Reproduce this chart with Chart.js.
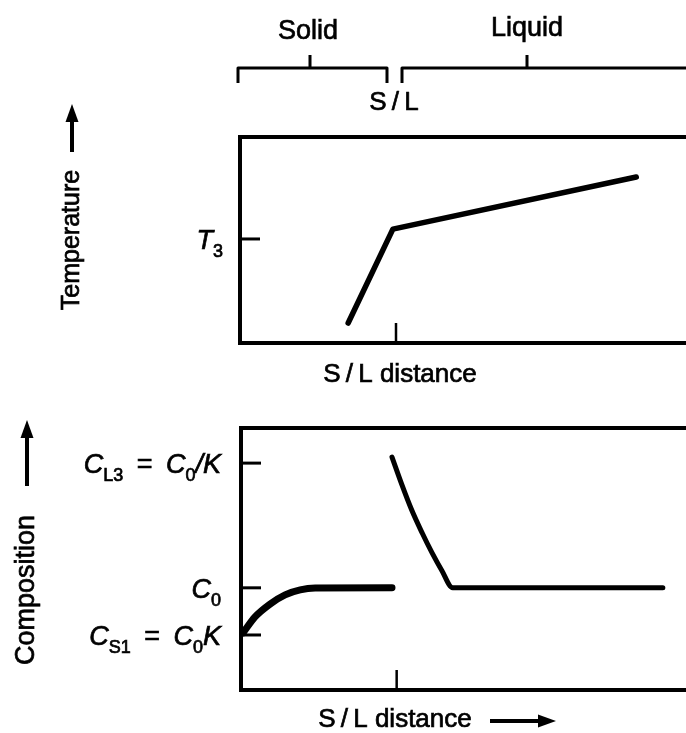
<!DOCTYPE html>
<html>
<head>
<meta charset="utf-8">
<script src="https://cdn.jsdelivr.net/npm/chart.js@4.4.0/dist/chart.umd.min.js"></script>
<style>
  html, body { margin: 0; padding: 0; background: #fff; overflow: hidden; width: 686px; height: 733px; }
  canvas { position: absolute; left: 0; }
  #tempChart { top: 0; }
  #compChart { top: 400px; }
</style>
</head>
<body>
<canvas id="tempChart" width="720" height="400"></canvas>
<canvas id="compChart" width="720" height="333"></canvas>
<script>
// distance from the S/L interface (arbitrary units), interface at 0
const tempDistance = [-9.2, -0.6, 46.2];
const temperature = [9.7, 55.3, 80.6];
const tempTickValues = [50.5];
const tempTickLabels = [
  [['T', 'i'], ['3', 'sub']],
];

const solidDistance = [-29.6, -27.3, -24.4, -21.5, -18.6, -15.7, -0.9];
const solidComp = [21.8, 27.9, 32.8, 36.3, 38.2, 38.9, 39];
const liquidDistance = [-0.9, 1.0, 2.9, 4.9, 6.8, 8.7, 10.8, 51.3];
const liquidComp = [88.9, 78.4, 68.7, 60.0, 52.4, 45.6, 39, 39];
const compTickValues = [86.6, 39, 21];
const compTickLabels = [
  [['C', 'i'], ['L3', 'sub'], ['\u2002=\u2002', 'r'], ['C', 'i'], ['0', 'sub'], ['/K', 'i']],
  [['C', 'i'], ['0', 'sub']],
  [['C', 'i'], ['S1', 'sub'], ['\u2002=\u2002', 'r'], ['C', 'i'], ['0', 'sub'], ['K', 'i']],
];

const FAMILY = '"Liberation Sans", Arial, Helvetica, sans-serif';

function toPoints(xs, ys) {
  return xs.map((x, i) => ({ x, y: ys[i] }));
}

// texto algo más grueso, como en el escaneo
function heavyText(ctx, t, x, y) {
  ctx.fillText(t, x, y);
  ctx.lineWidth = 0.7;
  ctx.strokeText(t, x, y);
}

// texto con cursiva y subíndices, alineado a la derecha
function drawRich(ctx, segs, right, base) {
  const fonts = { i: 'italic 27px ' + FAMILY, r: '27px ' + FAMILY, sub: '18px ' + FAMILY };
  let total = 0;
  segs.forEach(([t, k]) => { ctx.font = fonts[k]; total += ctx.measureText(t).width; });
  let x = right - total;
  ctx.textAlign = 'left';
  ctx.textBaseline = 'alphabetic';
  segs.forEach(([t, k]) => {
    ctx.font = fonts[k];
    heavyText(ctx, t, x, k === 'sub' ? base + 8 : base);
    x += ctx.measureText(t).width;
  });
}

function drawArrow(ctx, x1, y1, x2, y2) {
  const ang = Math.atan2(y2 - y1, x2 - x1);
  const len = 18, half = 6.5;
  ctx.lineWidth = 4;
  ctx.beginPath();
  ctx.moveTo(x1, y1);
  ctx.lineTo(x2 - Math.cos(ang) * len * 0.8, y2 - Math.sin(ang) * len * 0.8);
  ctx.stroke();
  ctx.beginPath();
  ctx.moveTo(x2, y2);
  ctx.lineTo(x2 - Math.cos(ang) * len - Math.sin(ang) * half, y2 - Math.sin(ang) * len + Math.cos(ang) * half);
  ctx.lineTo(x2 - Math.cos(ang) * len + Math.sin(ang) * half, y2 - Math.sin(ang) * len - Math.cos(ang) * half);
  ctx.closePath();
  ctx.fill();
}

function drawBracket(ctx, x1, x2, y, mid) {
  ctx.lineWidth = 3;
  ctx.lineJoin = 'round';
  ctx.beginPath();
  ctx.moveTo(x1, y + 15); ctx.lineTo(x1, y); ctx.lineTo(x2, y); ctx.lineTo(x2, y + 15);
  ctx.moveTo(mid, y); ctx.lineTo(mid, y - 13);
  ctx.stroke();
}

const framePlugin = {
  id: 'frame',
  afterDatasetsDraw(chart, args, opts) {
    const { ctx, chartArea: a, scales: { x, y } } = chart;
    ctx.save();
    ctx.strokeStyle = '#000';
    ctx.fillStyle = '#000';

    // marco: arriba, izquierda, abajo
    ctx.lineWidth = 4;
    ctx.lineCap = 'square';
    ctx.beginPath();
    ctx.moveTo(a.right + 10, a.top);
    ctx.lineTo(a.left, a.top);
    ctx.lineTo(a.left, a.bottom);
    ctx.lineTo(a.right + 10, a.bottom);
    ctx.stroke();

    // marcas hacia dentro en el eje y
    ctx.lineCap = 'butt';
    opts.tickValues.forEach((v, i) => {
      const py = y.getPixelForValue(v);
      ctx.lineWidth = 3;
      ctx.beginPath();
      ctx.moveTo(a.left, py);
      ctx.lineTo(a.left + 20, py);
      ctx.stroke();
      drawRich(ctx, opts.tickLabels[i], opts.labelRight, py + 10);
    });

    // marca de la interfase S/L
    const sx = x.getPixelForValue(0);
    ctx.lineWidth = 2.5;
    ctx.beginPath();
    ctx.moveTo(sx, a.bottom);
    ctx.lineTo(sx, a.bottom - 20);
    ctx.stroke();

    // título eje x
    ctx.font = '26px ' + FAMILY;
    ctx.textAlign = 'center';
    ctx.textBaseline = 'middle';
    heavyText(ctx, 'S\u2009/\u2009L distance', opts.xTitle.x, opts.xTitle.y);
    if (opts.xArrow) {
      drawArrow(ctx, opts.xArrow[0], opts.xTitle.y + 1, opts.xArrow[1], opts.xTitle.y + 1);
    }

    // título eje y con flecha
    ctx.save();
    ctx.translate(opts.yTitle.x, opts.yTitle.y);
    ctx.rotate(-Math.PI / 2);
    ctx.font = opts.yTitle.size + 'px ' + FAMILY;
    heavyText(ctx, opts.yTitle.text, 0, 0);
    ctx.restore();
    drawArrow(ctx, opts.yTitle.x, opts.yArrow[0], opts.yTitle.x, opts.yArrow[1]);

    // fases arriba
    if (opts.phases) {
      ctx.font = '27px ' + FAMILY;
      ctx.textBaseline = 'alphabetic';
      heavyText(ctx, 'Solid', 308, 39);
      heavyText(ctx, 'Liquid', 527, 36);
      drawBracket(ctx, 238, 387, 68, 310);
      drawBracket(ctx, 402, 720, 68, 527);
      ctx.font = '26px ' + FAMILY;
      heavyText(ctx, 'S\u2009/\u2009L', 394, 110);
    }
    ctx.restore();
  }
};

const baseOptions = (padding, frame) => ({
  responsive: false,
  animation: false,
  layout: { padding },
  scales: {
    x: { type: 'linear', display: false, min: -30, max: 60 },
    y: { type: 'linear', display: false, min: 0, max: 100 },
  },
  elements: { point: { radius: 0 } },
  plugins: { legend: { display: false }, tooltip: { enabled: false }, frame },
});

new Chart(document.getElementById('tempChart'), {
  type: 'line',
  data: {
    datasets: [{
      data: toPoints(tempDistance, temperature),
      borderColor: '#000',
      borderWidth: 5.5,
      borderCapStyle: 'round',
      borderJoinStyle: 'round',
      tension: 0,
    }],
  },
  options: baseOptions({ left: 240, top: 137, right: 12, bottom: 57 }, {
    tickValues: tempTickValues,
    tickLabels: tempTickLabels,
    labelRight: 223,
    xTitle: { x: 400, y: 375 },
    yTitle: { x: 72, y: 240, text: 'Temperature', size: 25 },
    yArrow: [152, 104],
    phases: true,
  }),
  plugins: [framePlugin],
});

new Chart(document.getElementById('compChart'), {
  type: 'line',
  data: {
    datasets: [{
      data: toPoints(solidDistance, solidComp),
      borderColor: '#000',
      borderWidth: 7,
      borderCapStyle: 'round',
      cubicInterpolationMode: 'monotone',
    }, {
      data: toPoints(liquidDistance, liquidComp),
      borderColor: '#000',
      borderWidth: 5,
      borderCapStyle: 'round',
      cubicInterpolationMode: 'monotone',
    }],
  },
  options: baseOptions({ left: 241, top: 28, right: 12, bottom: 43 }, {
    tickValues: compTickValues,
    tickLabels: compTickLabels,
    labelRight: 221,
    xTitle: { x: 395, y: 320 },
    xArrow: [490, 556],
    yTitle: { x: 27, y: 190, text: 'Composition', size: 27 },
    yArrow: [86, 20],
    phases: false,
  }),
  plugins: [framePlugin],
});
</script>
</body>
</html>
